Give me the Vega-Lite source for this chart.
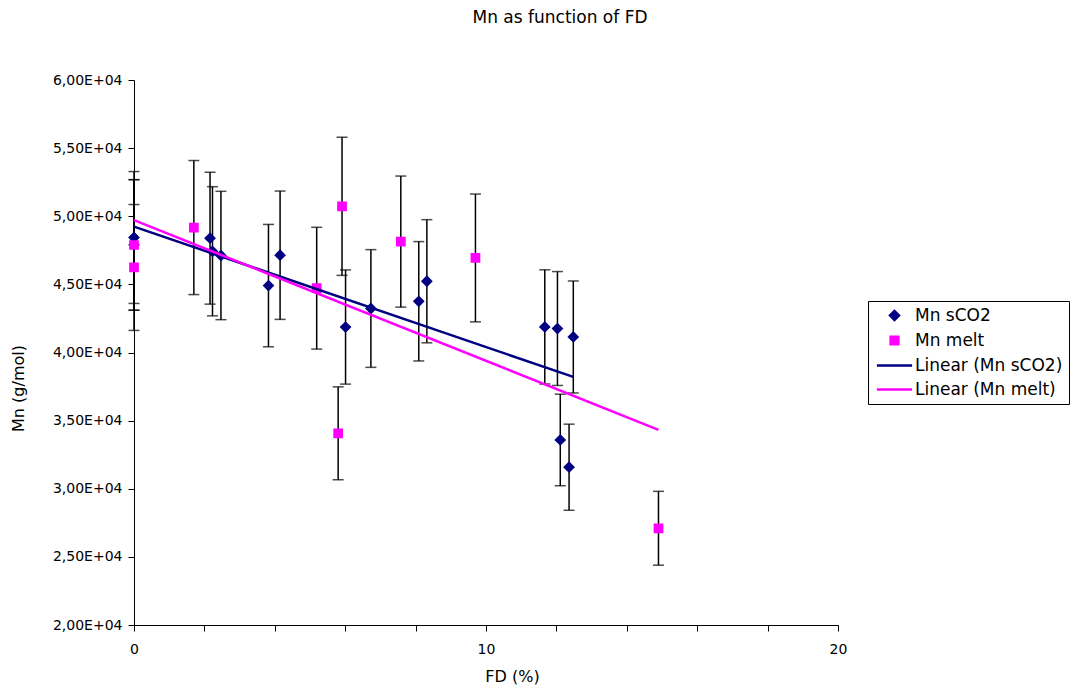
{
  "$schema": "https://vega.github.io/schema/vega-lite/v6.json",
  "width": 704,
  "height": 545,
  "autosize": {"type": "none"},
  "padding": {"left": 134, "top": 80, "right": 235, "bottom": 64},
  "background": "white",
  "config": {"view": {"stroke": null}, "font": "DejaVu Sans"},
  "title": {"text": "Mn as function of FD", "fontSize": 17, "fontWeight": "normal", "color": "black", "font": "DejaVu Sans", "anchor": "middle", "frame": "group", "dx": 74, "offset": 46},
  "data": {"values": [
    {"series": "Mn sCO2", "trend": "Linear (Mn sCO2)", "FD": 0, "Mn": 48440, "lo": 43600, "hi": 53280},
    {"series": "Mn sCO2", "trend": "Linear (Mn sCO2)", "FD": 0, "Mn": 47900, "lo": 43110, "hi": 52690},
    {"series": "Mn sCO2", "trend": "Linear (Mn sCO2)", "FD": 2.16, "Mn": 48390, "lo": 43550, "hi": 53230},
    {"series": "Mn sCO2", "trend": "Linear (Mn sCO2)", "FD": 2.23, "Mn": 47430, "lo": 42690, "hi": 52170},
    {"series": "Mn sCO2", "trend": "Linear (Mn sCO2)", "FD": 2.47, "Mn": 47120, "lo": 42410, "hi": 51830},
    {"series": "Mn sCO2", "trend": "Linear (Mn sCO2)", "FD": 3.82, "Mn": 44910, "lo": 40420, "hi": 49400},
    {"series": "Mn sCO2", "trend": "Linear (Mn sCO2)", "FD": 4.15, "Mn": 47140, "lo": 42430, "hi": 51850},
    {"series": "Mn sCO2", "trend": "Linear (Mn sCO2)", "FD": 6.01, "Mn": 41870, "lo": 37680, "hi": 46060},
    {"series": "Mn sCO2", "trend": "Linear (Mn sCO2)", "FD": 6.73, "Mn": 43230, "lo": 38910, "hi": 47550},
    {"series": "Mn sCO2", "trend": "Linear (Mn sCO2)", "FD": 8.09, "Mn": 43760, "lo": 39380, "hi": 48140},
    {"series": "Mn sCO2", "trend": "Linear (Mn sCO2)", "FD": 8.32, "Mn": 45230, "lo": 40710, "hi": 49750},
    {"series": "Mn sCO2", "trend": "Linear (Mn sCO2)", "FD": 11.67, "Mn": 41880, "lo": 37690, "hi": 46070},
    {"series": "Mn sCO2", "trend": "Linear (Mn sCO2)", "FD": 12.03, "Mn": 41760, "lo": 37580, "hi": 45940},
    {"series": "Mn sCO2", "trend": "Linear (Mn sCO2)", "FD": 12.11, "Mn": 33580, "lo": 30220, "hi": 36940},
    {"series": "Mn sCO2", "trend": "Linear (Mn sCO2)", "FD": 12.36, "Mn": 31580, "lo": 28420, "hi": 34740},
    {"series": "Mn sCO2", "trend": "Linear (Mn sCO2)", "FD": 12.48, "Mn": 41140, "lo": 37030, "hi": 45250},
    {"series": "Mn melt", "trend": "Linear (Mn melt)", "FD": 0, "Mn": 47890, "lo": 43100, "hi": 52680},
    {"series": "Mn melt", "trend": "Linear (Mn melt)", "FD": 0, "Mn": 46240, "lo": 41620, "hi": 50860},
    {"series": "Mn melt", "trend": "Linear (Mn melt)", "FD": 1.70, "Mn": 49170, "lo": 44250, "hi": 54090},
    {"series": "Mn melt", "trend": "Linear (Mn melt)", "FD": 5.19, "Mn": 44720, "lo": 40250, "hi": 49190},
    {"series": "Mn melt", "trend": "Linear (Mn melt)", "FD": 5.80, "Mn": 34070, "lo": 30660, "hi": 37480},
    {"series": "Mn melt", "trend": "Linear (Mn melt)", "FD": 5.91, "Mn": 50730, "lo": 45660, "hi": 55800},
    {"series": "Mn melt", "trend": "Linear (Mn melt)", "FD": 7.58, "Mn": 48140, "lo": 43330, "hi": 52950},
    {"series": "Mn melt", "trend": "Linear (Mn melt)", "FD": 9.70, "Mn": 46940, "lo": 42250, "hi": 51630},
    {"series": "Mn melt", "trend": "Linear (Mn melt)", "FD": 14.90, "Mn": 27100, "lo": 24390, "hi": 29810}
  ]},
  "layer": [
    {
      "mark": {"type": "rule", "color": "black", "strokeWidth": 1.5},
      "encoding": {
        "x": {"field": "FD", "type": "quantitative",
              "scale": {"domain": [0, 20], "nice": false, "zero": false},
              "axis": {"title": "FD (%)", "values": [0,1,2,3,4,5,6,7,8,9,10,11,12,13,14,15,16,17,18,19,20],
                       "labelExpr": "datum.value % 5 == 0 ? datum.label : ''", "grid": false,
                       "domainColor": "black", "domainWidth": 1, "tickColor": "black", "tickWidth": 1, "tickSize": 6,
                       "labelFont": "DejaVu Sans", "labelFontSize": 14, "labelColor": "black", "labelPadding": 11,
                       "labelFlush": false, "labelOverlap": false,
                       "titleFont": "DejaVu Sans", "titleFontSize": 16, "titleFontWeight": "normal", "titleColor": "black",
                       "titleX": 378, "titleY": 51, "titleBaseline": "middle", "titleAnchor": null}},
        "y": {"field": "lo", "type": "quantitative",
              "scale": {"domain": [20000, 60000], "nice": false, "zero": false},
              "axis": {"title": "Mn (g/mol)", "values": [20000,22500,25000,27500,30000,32500,35000,37500,40000,42500,45000,47500,50000,52500,55000,57500,60000],
                       "labelExpr": "datum.value % 5000 == 0 ? replace(format(datum.value / 10000, '.2f'), '.', ',') + 'E+04' : ''",
                       "grid": false, "domainColor": "black", "domainWidth": 1, "tickColor": "black", "tickWidth": 1, "tickSize": 6,
                       "labelFont": "DejaVu Sans", "labelFontSize": 14, "labelColor": "black", "labelPadding": 6,
                       "labelFlush": false, "labelOverlap": false,
                       "titleFont": "DejaVu Sans", "titleFontSize": 16, "titleFontWeight": "normal", "titleColor": "black",
                       "titleX": -116, "titleY": 308, "titleBaseline": "middle", "titleAnchor": null}},
        "y2": {"field": "hi"}
      }
    },
    {
      "mark": {"type": "tick", "orient": "horizontal", "size": 11, "thickness": 1.5, "color": "black"},
      "encoding": {
        "x": {"field": "FD", "type": "quantitative"},
        "y": {"field": "lo", "type": "quantitative"}
      }
    },
    {
      "mark": {"type": "tick", "orient": "horizontal", "size": 11, "thickness": 1.5, "color": "black"},
      "encoding": {
        "x": {"field": "FD", "type": "quantitative"},
        "y": {"field": "hi", "type": "quantitative"}
      }
    },
    {
      "mark": {"type": "point", "filled": true, "opacity": 1},
      "encoding": {
        "x": {"field": "FD", "type": "quantitative"},
        "y": {"field": "Mn", "type": "quantitative"},
        "color": {"field": "series", "type": "nominal",
                  "scale": {"domain": ["Mn sCO2", "Mn melt", "Linear (Mn sCO2)", "Linear (Mn melt)"], "range": ["#000080", "#FF00FF", "#000080", "#FF00FF"]},
                  "legend": {"title": null, "orient": "none", "legendX": 734, "legendY": 221,
                             "labelFont": "DejaVu Sans", "labelFontSize": 17, "labelColor": "black", "labelOffset": 12,
                             "strokeColor": "black", "fillColor": "white", "padding": 6, "rowPadding": 6,
                             "symbolOffset": 12, "symbolStrokeWidth": 2.5}},
        "stroke": {"field": "series", "type": "nominal",
                  "scale": {"domain": ["Mn sCO2", "Mn melt", "Linear (Mn sCO2)", "Linear (Mn melt)"], "range": ["#000080", "#FF00FF", "#000080", "#FF00FF"]},
                  "legend": {"title": null, "orient": "none", "legendX": 734, "legendY": 221,
                             "labelFont": "DejaVu Sans", "labelFontSize": 17, "labelColor": "black", "labelOffset": 12,
                             "strokeColor": "black", "fillColor": "white", "padding": 6, "rowPadding": 6,
                             "symbolOffset": 12, "symbolStrokeWidth": 2.5}},
        "shape": {"field": "series", "type": "nominal",
                  "scale": {"domain": ["Mn sCO2", "Mn melt", "Linear (Mn sCO2)", "Linear (Mn melt)"], "range": ["diamond", "square", "M-4.4,0L4.4,0", "M-4.4,0L4.4,0"]},
                  "legend": {"title": null, "orient": "none", "legendX": 734, "legendY": 221,
                             "labelFont": "DejaVu Sans", "labelFontSize": 17, "labelColor": "black", "labelOffset": 12,
                             "strokeColor": "black", "fillColor": "white", "padding": 6, "rowPadding": 6,
                             "symbolOffset": 12, "symbolStrokeWidth": 2.5}},
        "size": {"field": "series", "type": "nominal",
                 "scale": {"type": "ordinal", "domain": ["Mn sCO2", "Mn melt", "Linear (Mn sCO2)", "Linear (Mn melt)"], "range": [80, 60, 64, 64]},
                 "legend": {"title": null, "orient": "none", "legendX": 734, "legendY": 221,
                             "labelFont": "DejaVu Sans", "labelFontSize": 17, "labelColor": "black", "labelOffset": 12,
                             "strokeColor": "black", "fillColor": "white", "padding": 6, "rowPadding": 6,
                             "symbolOffset": 12, "symbolStrokeWidth": 2.5}}
      }
    },
    {
      "transform": [{"regression": "Mn", "on": "FD", "groupby": ["trend"]}],
      "mark": {"type": "line", "strokeWidth": 2.5},
      "encoding": {
        "x": {"field": "FD", "type": "quantitative"},
        "y": {"field": "Mn", "type": "quantitative"},
        "color": {"field": "trend", "type": "nominal", "legend": null}
      }
    }
  ]
}
